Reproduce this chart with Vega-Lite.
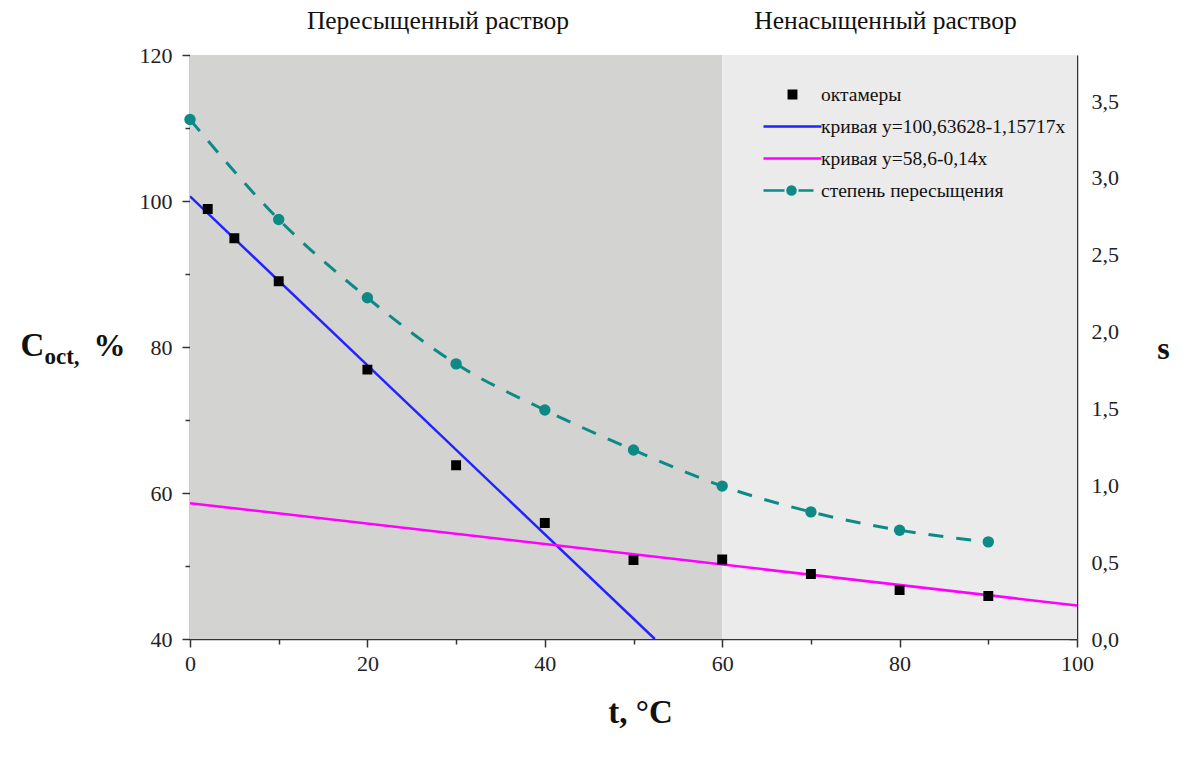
{
  "$schema": "https://vega.github.io/schema/vega-lite/v6.json",
  "width": 887,
  "height": 584,
  "autosize": {"type": "none"},
  "padding": {"left": 190, "top": 55, "right": 120, "bottom": 126},
  "background": "white",
  "config": {
    "view": {"stroke": null},
    "font": "Liberation Serif",
    "axis": {
      "labelFont": "Liberation Serif",
      "titleFont": "Liberation Serif",
      "labelColor": "#222222",
      "titleColor": "#111111",
      "tickColor": "#333333",
      "domainColor": "#333333",
      "domainWidth": 1.5,
      "tickWidth": 1.5,
      "grid": false,
      "labelFlush": false,
      "labelOverlap": false,
      "labelLimit": 0,
      "labelFontSize": 22
    }
  },
  "datasets": {
    "regions": [
      {"x0": 0, "x1": 60, "zone": "Пересыщенный раствор"},
      {"x0": 60, "x1": 100, "zone": "Ненасыщенный раствор"}
    ],
    "octamers": [
      {"t": 2, "C": 98.9, "series": "октамеры"},
      {"t": 5, "C": 94.9, "series": "октамеры"},
      {"t": 10, "C": 89.0, "series": "октамеры"},
      {"t": 20, "C": 76.9, "series": "октамеры"},
      {"t": 30, "C": 63.8, "series": "октамеры"},
      {"t": 40, "C": 55.9, "series": "октамеры"},
      {"t": 50, "C": 50.8, "series": "октамеры"},
      {"t": 60, "C": 50.9, "series": "октамеры"},
      {"t": 70, "C": 48.9, "series": "октамеры"},
      {"t": 80, "C": 46.7, "series": "октамеры"},
      {"t": 90, "C": 45.9, "series": "октамеры"}
    ],
    "fit1": [
      {"t": 0, "C": 100.636},
      {"t": 52.4, "C": 40.0}
    ],
    "fit2": [
      {"t": 0, "C": 58.6},
      {"t": 100, "C": 44.6}
    ],
    "supersat": [
      {"t": 0, "s": 3.38},
      {"t": 10, "s": 2.73},
      {"t": 20, "s": 2.22},
      {"t": 30, "s": 1.79},
      {"t": 40, "s": 1.49},
      {"t": 50, "s": 1.23},
      {"t": 60, "s": 0.995},
      {"t": 70, "s": 0.827},
      {"t": 80, "s": 0.708},
      {"t": 90, "s": 0.632}
    ]
  },
  "resolve": {
    "scale": {"y": "independent"},
    "axis": {"x": "independent", "y": "independent"}
  },
  "layer": [
    {
      "data": {"name": "regions"},
      "mark": {"type": "rect"},
      "encoding": {
        "x": {
          "field": "x0", "type": "quantitative",
          "scale": {"domain": [0, 100], "nice": false, "zero": false},
          "axis": {
            "orient": "top", "values": [27.9, 78.35],
            "labelExpr": "datum.value < 50 ? 'Пересыщенный раствор' : 'Ненасыщенный раствор'",
            "domain": false, "ticks": false, "labelPadding": 27,
            "labelBaseline": "alphabetic", "labelFontSize": 25.5, "labelColor": "#111111",
            "title": null
          }
        },
        "x2": {"field": "x1"},
        "color": {
          "field": "zone", "type": "nominal",
          "scale": {"domain": ["Пересыщенный раствор", "Ненасыщенный раствор"], "range": ["#d3d4d2", "#ebebeb"]},
          "legend": null
        }
      }
    },
    {
      "data": {"name": "fit1"},
      "mark": {"type": "line", "color": "#2222ff", "strokeWidth": 2.5, "clip": true},
      "encoding": {
        "x": {
          "field": "t", "type": "quantitative",
          "scale": {"domain": [0, 100], "nice": false, "zero": false},
          "axis": {"orient": "bottom", "values": [10, 30, 50, 70, 90], "labels": false, "domain": false, "tickSize": 5, "title": null}
        },
        "y": {
          "field": "C", "type": "quantitative",
          "scale": {"domain": [40, 120], "nice": false, "zero": false},
          "axis": {
            "orient": "left", "values": [50, 70, 90, 110], "labels": false, "domain": false, "tickSize": 5,
            "title": "oct,", "titleAngle": 0, "titleX": -146, "titleY": 308, "titleAlign": "left",
            "titleBaseline": "alphabetic", "titleFontSize": 23, "titleFontWeight": "bold"
          }
        }
      }
    },
    {
      "data": {"name": "fit2"},
      "mark": {"type": "line", "color": "#ff00ff", "strokeWidth": 2.5, "clip": true},
      "encoding": {
        "x": {
          "field": "t", "type": "quantitative",
          "scale": {"domain": [0, 100], "nice": false, "zero": false},
          "axis": null
        },
        "y": {
          "field": "C", "type": "quantitative",
          "scale": {"domain": [40, 120], "nice": false, "zero": false},
          "axis": {
            "orient": "left", "labels": false, "ticks": false, "domain": false,
            "title": "%", "titleAngle": 0, "titleX": -97, "titleY": 300, "titleAlign": "left",
            "titleBaseline": "alphabetic", "titleFontSize": 32, "titleFontWeight": "bold"
          }
        }
      }
    },
    {
      "data": {"name": "supersat"},
      "mark": {"type": "line", "color": "#0e8a86", "strokeWidth": 3, "strokeDash": [15, 13], "interpolate": "monotone"},
      "encoding": {
        "x": {
          "field": "t", "type": "quantitative",
          "scale": {"domain": [0, 100], "nice": false, "zero": false},
          "axis": null
        },
        "y": {
          "field": "s", "type": "quantitative",
          "scale": {"domain": [0, 3.8], "nice": false, "zero": false},
          "axis": {
            "orient": "right", "values": [0, 0.5, 1, 1.5, 2, 2.5, 3, 3.5],
            "labelExpr": "replace(format(datum.value, '.1f'), '.', ',')",
            "tickSize": -8, "labelPadding": 22,
            "title": "s", "titleAngle": 0, "titleX": 86, "titleY": 303, "titleAlign": "center",
            "titleBaseline": "alphabetic", "titleFontSize": 32, "titleFontWeight": "bold"
          }
        }
      }
    },
    {
      "data": {"name": "supersat"},
      "mark": {"type": "point", "filled": true, "size": 130, "opacity": 1, "color": "#0e8a86"},
      "encoding": {
        "x": {
          "field": "t", "type": "quantitative",
          "scale": {"domain": [0, 100], "nice": false, "zero": false},
          "axis": null
        },
        "y": {
          "field": "s", "type": "quantitative",
          "scale": {"domain": [0, 3.8], "nice": false, "zero": false},
          "axis": {
            "orient": "right", "values": [0.25, 0.75, 1.25, 1.75, 2.25, 2.75, 3.25, 3.75],
            "labels": false, "domain": false, "tickSize": -4, "title": null
          }
        }
      }
    },
    {
      "data": {"name": "octamers"},
      "mark": {"type": "point", "size": 400, "opacity": 1, "strokeWidth": 2.5},
      "encoding": {
        "x": {
          "field": "t", "type": "quantitative",
          "scale": {"domain": [0, 100], "nice": false, "zero": false},
          "axis": {
            "orient": "bottom", "values": [0, 20, 40, 60, 80, 100], "tickSize": 8, "labelPadding": 6,
            "title": "t, °C", "titleX": 450, "titleY": 83, "titleAlign": "center", "titleBaseline": "alphabetic",
            "titleFontSize": 33, "titleFontWeight": "bold"
          }
        },
        "y": {
          "field": "C", "type": "quantitative",
          "scale": {"domain": [40, 120], "nice": false, "zero": false},
          "axis": {
            "orient": "left", "values": [40, 60, 80, 100, 120], "tickSize": 8, "labelPadding": 10,
            "title": "C", "titleAngle": 0, "titleX": -170, "titleY": 300, "titleAlign": "left",
            "titleBaseline": "alphabetic", "titleFontSize": 33, "titleFontWeight": "bold"
          }
        },
        "fill": {
          "field": "series", "type": "nominal",
          "scale": {
            "domain": ["октамеры", "кривая y=100,63628-1,15717x", "кривая y=58,6-0,14x", "степень пересыщения"],
            "range": ["#000000", "transparent", "transparent", "#0e8a86"]
          },
          "legend": {
            "orient": "none", "legendX": 591, "legendY": 28, "title": null, "padding": 0,
            "labelFont": "Liberation Serif", "labelFontSize": 19.5, "labelColor": "#111111", "labelLimit": 0,
            "labelOffset": 17, "rowPadding": 11, "symbolSize": 400, "symbolStrokeWidth": 2.5, "symbolOpacity": 1
          }
        },
        "stroke": {
          "field": "series", "type": "nominal",
          "scale": {
            "domain": ["октамеры", "кривая y=100,63628-1,15717x", "кривая y=58,6-0,14x", "степень пересыщения"],
            "range": ["#000000", "#2222ff", "#ff00ff", "#0e8a86"]
          },
          "legend": {
            "orient": "none", "legendX": 591, "legendY": 28, "title": null, "padding": 0,
            "labelFont": "Liberation Serif", "labelFontSize": 19.5, "labelColor": "#111111", "labelLimit": 0,
            "labelOffset": 17, "rowPadding": 11, "symbolSize": 400, "symbolStrokeWidth": 2.5, "symbolOpacity": 1
          }
        },
        "shape": {
          "field": "series", "type": "nominal",
          "scale": {
            "domain": ["октамеры", "кривая y=100,63628-1,15717x", "кривая y=58,6-0,14x", "степень пересыщения"],
            "range": [
              "M-0.37,-0.37H0.37V0.37H-0.37Z",
              "M-2.9,0H2.9",
              "M-2.9,0H2.9",
              "M-2.9,0H-0.8M0.6,0H2.1M-0.5,0A0.4,0.4,0,1,0,0.3,0A0.4,0.4,0,1,0,-0.5,0Z"
            ]
          },
          "legend": {
            "orient": "none", "legendX": 591, "legendY": 28, "title": null, "padding": 0,
            "labelFont": "Liberation Serif", "labelFontSize": 19.5, "labelColor": "#111111", "labelLimit": 0,
            "labelOffset": 17, "rowPadding": 11, "symbolSize": 400, "symbolStrokeWidth": 2.5, "symbolOpacity": 1
          }
        }
      }
    }
  ]
}
